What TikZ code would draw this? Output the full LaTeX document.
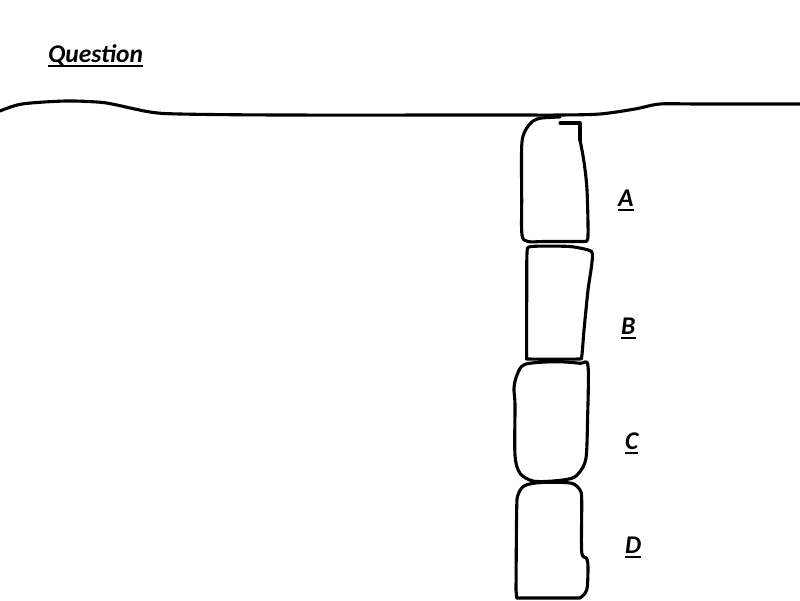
\documentclass[tikz,border=0pt]{standalone}
\usepackage{fontspec}
\setmainfont{Carlito}
\newcommand\myul[1]{\setbox0\hbox{#1}\rlap{\rule[-4.8pt]{\wd0}{2pt}}\box0}
\tikzset{
  ink/.style={line width=3.1pt, line join=round, line cap=round},
  lbl/.style={inner sep=0pt, anchor=base west, font=\fontsize{25.5}{28}\selectfont\bfseries\itshape}
}
\begin{document}
\begin{tikzpicture}[x=1pt,y=-1pt]
\useasboundingbox (0,0) rectangle (800,600);
% ceiling
\draw[ink] plot[smooth, tension=0.5] coordinates{(0,111) (22,104) (65,101) (97,102) (112,104) (150,112) (180,114) (280,115) (500,115) (560,115) (600,114) (635,109) (660,104) (700,104) (800,104)};
% block A
\draw[ink] (560,123) -- (580,123) -- (580,140);
\draw[ink] plot[smooth, tension=0.5] coordinates{(580,140) (584,162) (587,190) (588,236) (585,241.5)};
\draw[ink] plot[smooth, tension=0.5] coordinates{(585,241.5) (545,241.5) (528,241.5) (522,235) (521.7,200) (521.7,146) (525,131) (533,121) (542,118) (560,117)};
% block B
\draw[ink] plot[smooth cycle, tension=0.35] coordinates{(531,246.5) (570,246.5) (591.5,251.5) (591.5,266) (588,290) (584,330) (581.7,356.7) (578,359) (530,359) (526.7,355) (526.7,300) (527,253)};
% block C
\draw[ink] plot[smooth cycle, tension=0.5] coordinates{(525,364.3) (555,361.7) (580,363.3) (588,366) (587.5,421.7) (586,458) (580,471.7) (571.7,478.3) (553,481) (533,481) (520,473.3) (515,455) (515,405) (514,388) (517,375)};
% block D
\draw[ink] plot[smooth, tension=0.5] coordinates{(516,590) (516.7,508.3) (518,495) (523,486.7) (533,483.3) (550,482.3) (571.7,483.3) (580,490) (581.7,500) (581.7,551.7) (586.7,558.3) (588,568) (586.7,590) (580,598)};
\draw[ink] (580,598) -- (516.7,598) -- (516,590);
% labels
\node[lbl] (q) at (48,62) {\myul{Question}};
\node[lbl] (a) at (618,206) {\myul{A}};
\node[lbl] (b) at (621,334) {\myul{B}};
\node[lbl] (c) at (625,449) {\myul{C}};
\node[lbl] (d) at (625,553) {\myul{D}};
\end{tikzpicture}
\end{document}
